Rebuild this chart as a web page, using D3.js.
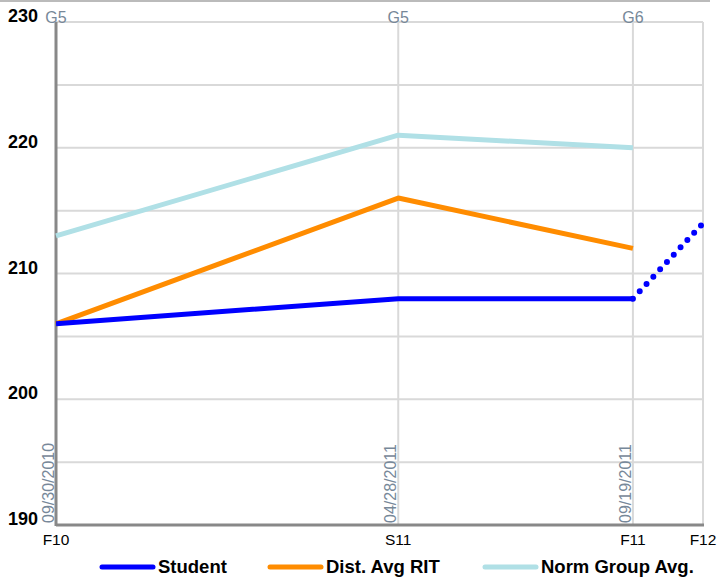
<!DOCTYPE html>
<html>
<head>
<meta charset="utf-8">
<script src="https://cdn.jsdelivr.net/npm/d3@7/dist/d3.min.js"></script>
<style>
  html, body { margin: 0; padding: 0; background: #fff; }
  svg { display: block; font-family: "Liberation Sans", Arial, Helvetica, sans-serif; }
</style>
</head>
<body>
<svg id="chart" width="718" height="580"></svg>
<script>
// Test terms, their dates and grades
const terms = ["F10", "S11", "F11", "F12"];
const termDates = ["2010-09-30", "2011-04-28", "2011-09-19", "2011-11-01"];
const testDateLabels = ["09/30/2010", "04/28/2011", "09/19/2011"];
const grades = ["G5", "G5", "G6"];

// RIT scores per tested term
const studentRIT = [206, 208, 208];
const studentProjection = 214;
const districtAvgRIT = [206, 216, 212];
const normGroupAvg = [213, 221, 220];

const yTicks = [190, 200, 210, 220, 230];
const yGrid = [190, 195, 200, 205, 210, 215, 220, 225, 230];

const seriesNames = ["Student", "Dist. Avg RIT", "Norm Group Avg."];
const seriesColors = ["#0000ff", "#ff8c00", "#b0e0e6"];

const parse = d3.timeParse("%Y-%m-%d");
const dates = termDates.map(parse);

const svg = d3.select("#chart");
const margin = { left: 56, right: 15, top: 22, bottom: 55 };
const W = 718, H = 580;

const x = d3.scaleTime()
  .domain([dates[0], dates[dates.length - 1]])
  .range([margin.left, W - margin.right]);
const y = d3.scaleLinear()
  .domain([190, 230])
  .range([H - margin.bottom, margin.top]);

// top rule
svg.append("line")
  .attr("x1", 0).attr("x2", 710).attr("y1", 1).attr("y2", 1)
  .attr("stroke", "#bbbbbb").attr("stroke-width", 2);

// horizontal grid
svg.append("g")
  .selectAll("line").data(yGrid).join("line")
  .attr("x1", x.range()[0]).attr("x2", x.range()[1])
  .attr("y1", d => y(d)).attr("y2", d => y(d))
  .attr("stroke", "#d9d9d9").attr("stroke-width", 2);

// vertical grid at each term
svg.append("g")
  .selectAll("line").data(dates.slice(1)).join("line")
  .attr("x1", d => x(d)).attr("x2", d => x(d))
  .attr("y1", y(230)).attr("y2", y(190))
  .attr("stroke", "#d9d9d9").attr("stroke-width", 2);

// y axis labels
svg.append("g")
  .selectAll("text").data(yTicks).join("text")
  .attr("x", 38).attr("y", d => y(d))
  .attr("text-anchor", "end")
  .attr("font-size", 18).attr("font-weight", "bold").attr("fill", "#000")
  .text(d => d);

// grade labels on top
svg.append("g")
  .selectAll("text").data(grades).join("text")
  .attr("x", (d, i) => x(dates[i])).attr("y", y(230) + 1)
  .attr("text-anchor", "middle")
  .attr("font-size", 16).attr("fill", "#778899")
  .text(d => d);

// test dates, rotated along the vertical grid lines
svg.append("g")
  .selectAll("text").data(testDateLabels).join("text")
  .attr("transform", (d, i) => `translate(${x(dates[i]) - 2},${y(190) - 2}) rotate(-90)`)
  .attr("font-size", 16).attr("fill", "#778899")
  .text(d => d);

// term labels under the axis
svg.append("g")
  .selectAll("text").data(terms).join("text")
  .attr("x", (d, i) => x(dates[i])).attr("y", y(190) + 20)
  .attr("text-anchor", "middle")
  .attr("font-size", 15.5).attr("fill", "#000")
  .text(d => d);

// axes lines
svg.append("line")
  .attr("x1", x.range()[0]).attr("x2", x.range()[0])
  .attr("y1", y(230)).attr("y2", y(190) + 1)
  .attr("stroke", "#888888").attr("stroke-width", 3);
svg.append("line")
  .attr("x1", x.range()[0]).attr("x2", x.range()[1] + 1)
  .attr("y1", y(190)).attr("y2", y(190))
  .attr("stroke", "#888888").attr("stroke-width", 3);

const line = d3.line().x(d => x(d[0])).y(d => y(d[1]));
const tested = dates.slice(0, 3);

const series = [normGroupAvg, districtAvgRIT, studentRIT];
const colorsOrdered = [seriesColors[2], seriesColors[1], seriesColors[0]];
series.forEach((vals, k) => {
  svg.append("path")
    .datum(tested.map((d, i) => [d, vals[i]]))
    .attr("d", line)
    .attr("fill", "none")
    .attr("stroke", colorsOrdered[k])
    .attr("stroke-width", 5)
    .attr("stroke-linejoin", "round");
});

// projected growth for the student
svg.append("path")
  .datum([[dates[2], studentRIT[2]], [dates[3], studentProjection]])
  .attr("d", line)
  .attr("fill", "none")
  .attr("stroke", seriesColors[0])
  .attr("stroke-width", 6)
  .attr("stroke-linecap", "round")
  .attr("stroke-dasharray", "0,10");

// legend
const legendX = [102, 270, 485];
const legend = svg.append("g")
  .selectAll("g").data(seriesNames).join("g")
  .attr("transform", (d, i) => `translate(${legendX[i]},567)`);
legend.append("line")
  .attr("x1", 0).attr("x2", 51).attr("y1", 0).attr("y2", 0)
  .attr("stroke", (d, i) => seriesColors[i])
  .attr("stroke-width", 5).attr("stroke-linecap", "round");
legend.append("text")
  .attr("x", 56).attr("y", 6)
  .attr("font-size", 18.5).attr("font-weight", "bold").attr("fill", "#000")
  .text(d => d);
</script>
</body>
</html>
